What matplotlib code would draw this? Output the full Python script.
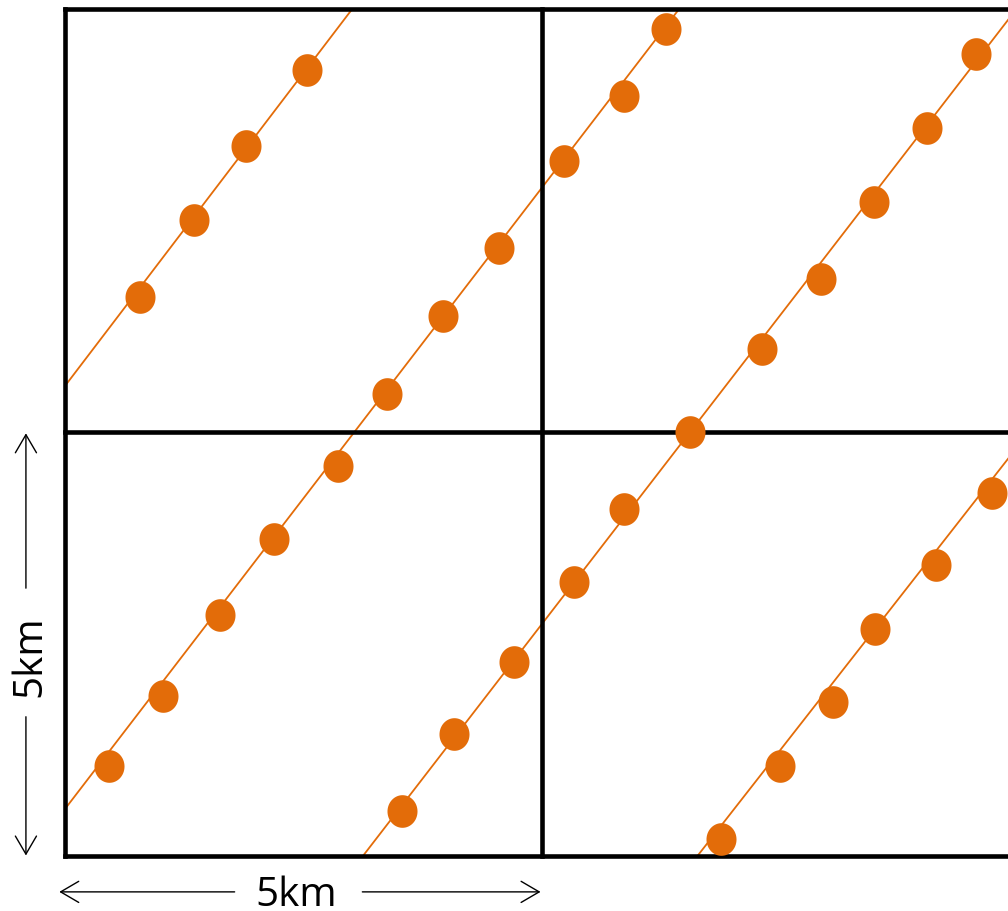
import numpy as np
import matplotlib
matplotlib.use("Agg")
import matplotlib.pyplot as plt
from matplotlib.path import Path

# satellite ground tracks over a 5 km grid (all values in km)
track_a_line = [(0.0, 5.55), (3.01, 10.0)]
track_a_x = [0.79, 1.35, 1.90, 2.54]
track_a_y = [6.60, 7.51, 8.39, 9.28]

track_b_line = [(0.0, 0.55), (6.44, 10.0)]
track_b_x = [0.46, 1.03, 1.63, 2.19, 2.86, 3.38, 3.97, 4.55, 5.24, 5.87, 6.31]
track_b_y = [1.06, 1.88, 2.84, 3.74, 4.60, 5.45, 6.38, 7.18, 8.21, 8.98, 9.77]

track_c_line = [(3.13, 0.0), (9.98, 10.0)]
track_c_x = [3.54, 4.08, 4.71, 5.34, 5.87, 6.56, 7.31, 7.93, 8.49, 9.05, 9.56]
track_c_y = [0.53, 1.44, 2.29, 3.23, 4.10, 5.00, 5.99, 6.81, 7.72, 8.60, 9.47]

track_d_line = [(6.64, 0.0), (10.0, 4.84)]
track_d_x = [6.88, 7.50, 8.06, 8.50, 9.14, 9.73]
track_d_y = [0.20, 1.06, 1.81, 2.68, 3.43, 4.29]

grid_ticks = [0, 5, 10]
scale_label = "5km"

orange = "#E36C09"

# slightly taller than wide dots, as in the original drawing
t = np.linspace(0, 2 * np.pi, 60)
dot = Path(np.column_stack([0.92 * np.cos(t), np.sin(t)]), closed=True)

fig = plt.figure(figsize=(10.08, 9.11), dpi=100)
ax = fig.add_axes([0, 0, 1, 1])
ax.set_xlim(-0.682, 9.895)
ax.set_ylim(-0.656, 10.112)
ax.axis("off")

tracks = [(track_a_line, track_a_x, track_a_y),
          (track_b_line, track_b_x, track_b_y),
          (track_c_line, track_c_x, track_c_y),
          (track_d_line, track_d_x, track_d_y)]

for line, xs, ys in tracks:
    lx, ly = zip(*line)
    ax.plot(lx, ly, color=orange, lw=1.3, zorder=1)

# grid
for g in grid_ticks:
    ax.plot([0, 10], [g, g], color="black", lw=3.3,
            solid_capstyle="projecting", zorder=2)
    ax.plot([g, g], [0, 10], color="black", lw=3.3,
            solid_capstyle="projecting", zorder=2)

for line, xs, ys in tracks:
    ax.plot(xs, ys, ls="none", marker=dot, ms=23.5, mew=0,
            color=orange, zorder=3)

# scale arrows
arrow = dict(arrowstyle="->,head_length=1.3,head_width=0.76",
             mutation_scale=10, lw=1.0, color="black",
             shrinkA=0, shrinkB=0)

ax.annotate("", xy=(-0.06, -0.43), xytext=(1.78, -0.43), arrowprops=arrow)
ax.annotate("", xy=(4.99, -0.43), xytext=(3.12, -0.43), arrowprops=arrow)
ax.text(2.43, -0.60, scale_label, fontsize=29, family="Open Sans",
        ha="center", va="baseline")

ax.annotate("", xy=(-0.41, 4.99), xytext=(-0.41, 3.16), arrowprops=arrow)
ax.annotate("", xy=(-0.41, 0.0), xytext=(-0.41, 1.64), arrowprops=arrow)
ax.text(-0.262, 2.36, scale_label, fontsize=29, family="Open Sans",
        rotation=90, rotation_mode="anchor", ha="center", va="baseline")

fig.savefig("out.png", dpi=100)
